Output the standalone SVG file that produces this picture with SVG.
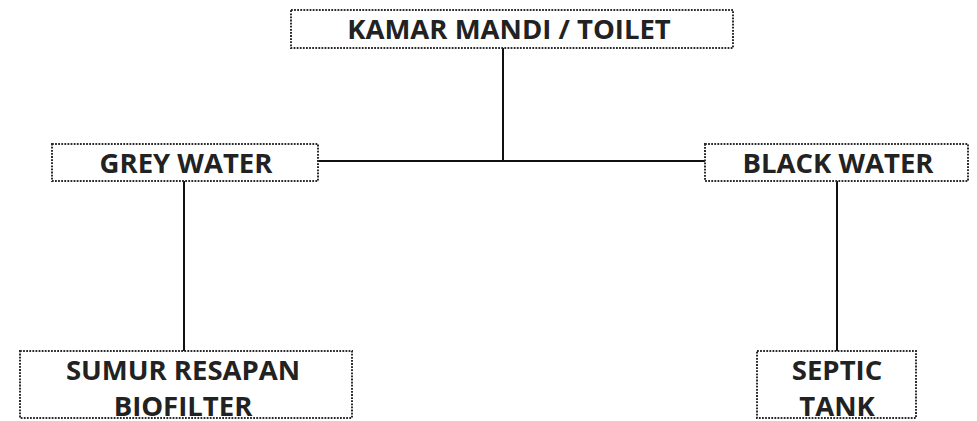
<svg xmlns="http://www.w3.org/2000/svg" width="977" height="421" viewBox="0 0 977 421">
<style>
.box{fill:#fff;stroke:#2a2a2a;stroke-width:2;stroke-dasharray:1.8 1.3}
.lbl{font-family:"Open Sans","DejaVu Sans",sans-serif;font-weight:bold;font-size:27.5px;fill:#222;text-anchor:middle}
.ln{stroke:#111;stroke-width:2;fill:none}
</style>
<rect width="977" height="421" fill="#fff"/>
<g id="connectors">
<line class="ln" x1="503" y1="48" x2="503" y2="161"/>
<line class="ln" x1="319" y1="161" x2="706" y2="161"/>
<line class="ln" x1="184" y1="181" x2="184" y2="351"/>
<line class="ln" x1="837" y1="181" x2="837" y2="351"/>
</g>
<g id="toilet">
<rect class="box" x="291" y="10" width="442" height="38"/>
<text class="lbl" x="509" y="39">KAMAR MANDI / TOILET</text>
</g>
<g id="grey">
<rect class="box" x="52" y="144" width="266" height="37"/>
<text class="lbl" x="186" y="173">GREY WATER</text>
</g>
<g id="black">
<rect class="box" x="705" y="144" width="263" height="37"/>
<text class="lbl" x="838" y="173">BLACK WATER</text>
</g>
<g id="sumur">
<rect class="box" x="20" y="351" width="332" height="67"/>
<text class="lbl" x="183" y="380">SUMUR RESAPAN</text>
<text class="lbl" x="183" y="416">BIOFILTER</text>
</g>
<g id="septic">
<rect class="box" x="757" y="351" width="159" height="67"/>
<text class="lbl" x="837" y="380">SEPTIC</text>
<text class="lbl" x="837" y="416">TANK</text>
</g>
</svg>
